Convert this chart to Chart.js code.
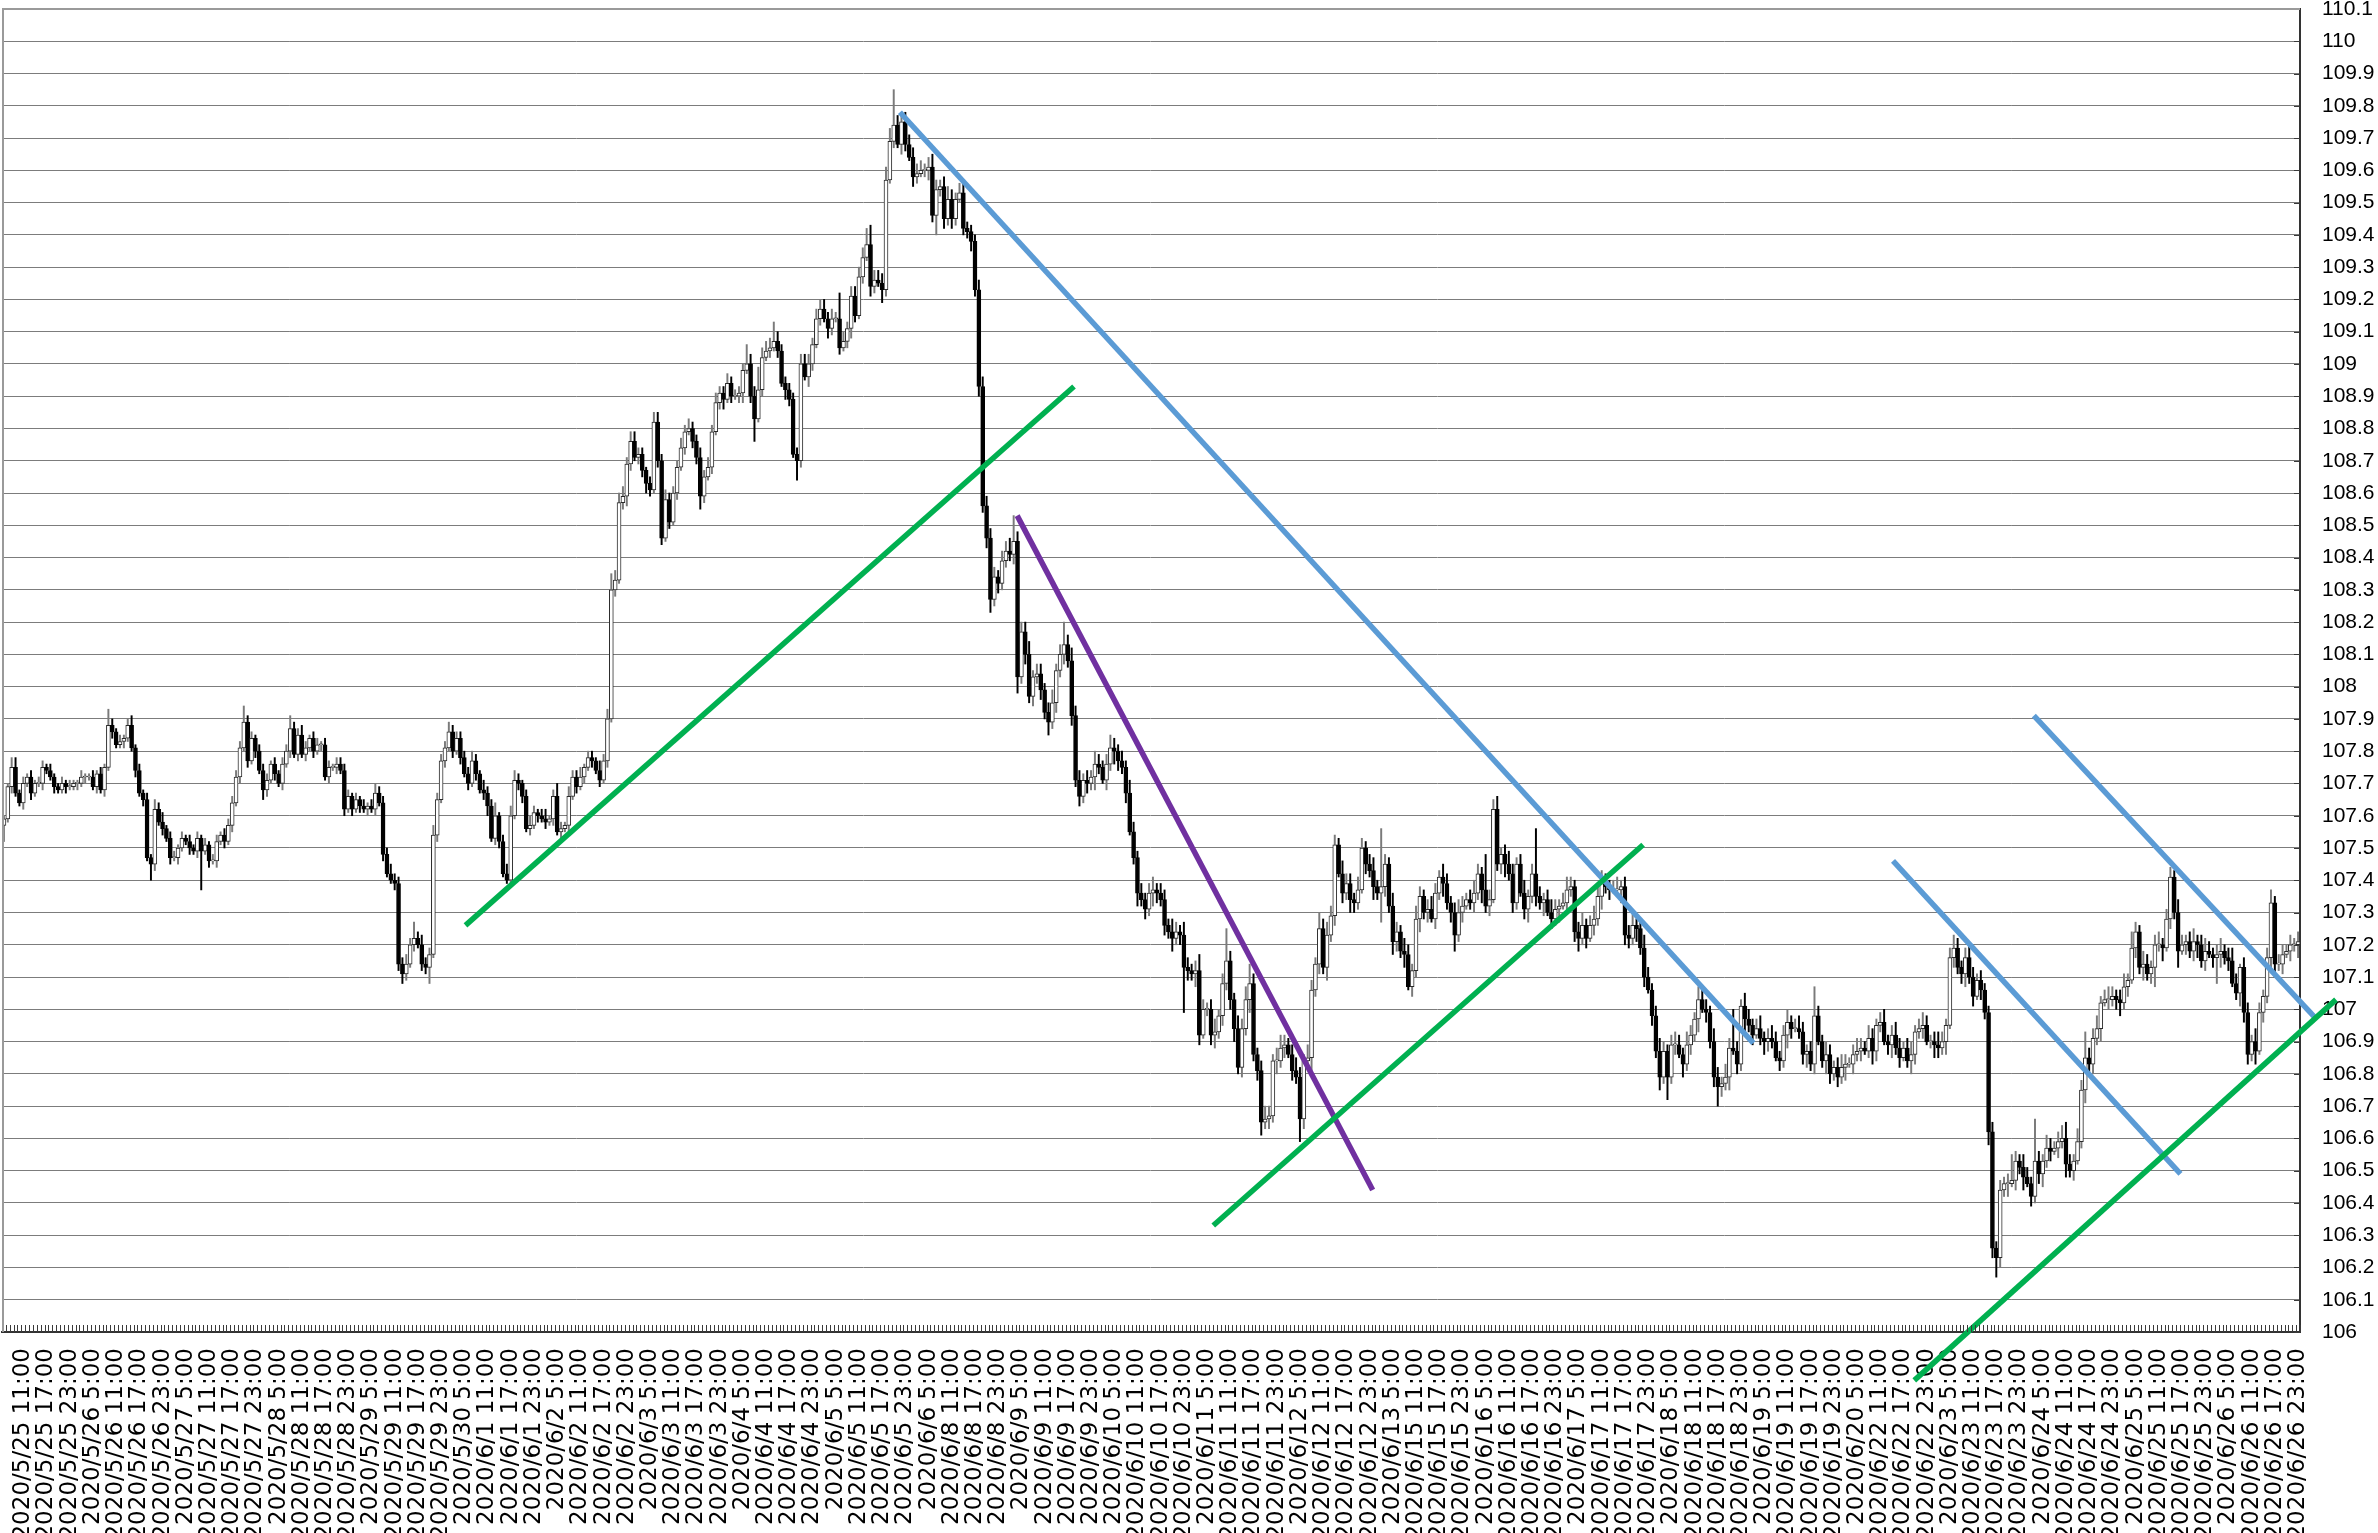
<!DOCTYPE html>
<html>
<head>
<meta charset="utf-8">
<script src="https://cdn.jsdelivr.net/npm/chart.js@4.4.0/dist/chart.umd.min.js"></script>
<style>
  html, body { margin: 0; padding: 0; background: #fff; }
  canvas { display: block; }
</style>
</head>
<body>
<canvas id="chart" width="2378" height="1533"></canvas>
<script>
// USD/JPY hourly candles, 2020/5/25 6:00 - 2020/6/26 23:00
const firstOpen = 107.57;

const closes = [
  107.59,107.69,107.75,107.67,107.64,107.70,107.72,107.67,107.70,107.70,107.75,107.74,107.72,107.69,107.68,107.70,107.69,107.69,107.70,107.70,
  107.72,107.72,107.72,107.69,107.73,107.68,107.75,107.88,107.86,107.82,107.83,107.84,107.88,107.81,107.74,107.67,107.65,107.47,107.45,107.62,
  107.58,107.56,107.53,107.47,107.47,107.50,107.53,107.52,107.50,107.49,107.53,107.49,107.51,107.46,107.46,107.52,107.54,107.52,107.57,107.64,
  107.72,107.81,107.89,107.77,107.84,107.80,107.74,107.68,107.71,107.76,107.73,107.70,107.76,107.80,107.87,107.79,107.85,107.79,107.81,107.84,
  107.80,107.82,107.82,107.72,107.75,107.75,107.76,107.74,107.62,107.66,107.62,107.65,107.63,107.62,107.63,107.62,107.67,107.64,107.48,107.42,
  107.40,107.39,107.14,107.11,107.14,107.20,107.22,107.20,107.14,107.13,107.17,107.54,107.65,107.77,107.81,107.86,107.80,107.84,107.78,107.73,
  107.70,107.77,107.73,107.68,107.67,107.63,107.53,107.60,107.52,107.42,107.40,107.60,107.71,107.70,107.66,107.56,107.57,107.61,107.60,107.59,
  107.58,107.59,107.66,107.55,107.56,107.57,107.66,107.72,107.69,107.72,107.75,107.78,107.77,107.74,107.71,107.77,107.90,108.30,108.33,108.57,
  108.59,108.69,108.76,108.71,108.72,108.67,108.63,108.61,108.82,108.70,108.46,108.58,108.51,108.60,108.68,108.74,108.79,108.80,108.76,108.71,
  108.59,108.65,108.68,108.79,108.88,108.91,108.89,108.94,108.90,108.90,108.91,108.98,109.00,108.90,108.83,108.92,109.02,109.04,109.05,109.07,
  109.04,108.94,108.92,108.89,108.72,108.70,109.00,108.96,109.00,109.06,109.14,109.17,109.14,109.11,109.14,109.14,109.05,109.07,109.11,109.21,
  109.15,109.27,109.33,109.37,109.24,109.26,109.25,109.23,109.57,109.69,109.74,109.68,109.75,109.68,109.64,109.58,109.59,109.60,109.60,109.61,
  109.46,109.54,109.55,109.45,109.51,109.45,109.51,109.53,109.42,109.41,109.38,109.23,108.93,108.56,108.46,108.27,108.34,108.32,108.39,108.42,
  108.41,108.45,108.03,108.17,108.10,107.97,108.03,108.04,107.99,107.92,107.89,107.95,108.05,108.10,108.13,108.08,107.91,107.71,107.66,107.71,
  107.70,107.72,107.76,107.75,107.71,107.76,107.81,107.80,107.77,107.75,107.67,107.55,107.47,107.36,107.34,107.31,107.36,107.37,107.36,107.34,
  107.26,107.24,107.22,107.24,107.23,107.13,107.12,107.11,107.12,106.92,107.00,107.00,106.92,106.93,106.98,107.08,107.15,107.03,106.94,106.82,
  106.94,107.03,107.08,106.86,106.81,106.65,106.66,106.67,106.84,106.84,106.88,106.89,106.86,106.81,106.79,106.66,106.84,106.85,107.06,107.14,
  107.25,107.13,107.23,107.29,107.51,107.42,107.36,107.39,107.34,107.33,107.37,107.50,107.45,107.43,107.38,107.36,107.38,107.45,107.32,107.21,
  107.24,107.18,107.17,107.07,107.12,107.28,107.35,107.30,107.31,107.28,107.36,107.41,107.39,107.33,107.30,107.23,107.30,107.32,107.34,107.33,
  107.36,107.42,107.37,107.32,107.34,107.62,107.45,107.48,107.45,107.42,107.33,107.45,107.36,107.31,107.35,107.42,107.35,107.33,107.34,107.30,
  107.28,107.31,107.32,107.33,107.37,107.38,107.24,107.22,107.26,107.22,107.26,107.28,107.35,107.39,107.38,107.37,107.37,107.37,107.38,107.23,
  107.22,107.26,107.25,107.19,107.10,107.06,106.98,106.87,106.79,106.87,106.79,106.89,106.89,106.86,106.83,106.89,106.92,106.97,107.03,107.00,
  106.99,106.90,106.79,106.76,106.77,106.79,106.88,106.87,106.83,107.01,106.97,106.95,106.92,106.94,106.91,106.90,106.91,106.90,106.85,106.84,
  106.92,106.96,106.94,106.94,106.93,106.86,106.87,106.83,106.98,106.90,106.84,106.86,106.80,106.82,106.79,106.82,106.83,106.83,106.86,106.87,
  106.88,106.87,106.91,106.87,106.95,106.96,106.90,106.89,106.92,106.88,106.85,106.88,106.84,106.86,106.93,106.94,106.95,106.90,106.90,106.89,
  106.88,106.90,106.95,107.16,107.19,107.13,107.11,107.16,107.10,107.04,107.09,107.06,106.99,106.62,106.26,106.23,106.44,106.46,106.46,106.47,
  106.53,106.51,106.48,106.46,106.42,106.53,106.49,106.53,106.57,106.56,106.57,106.59,106.60,106.52,106.50,106.53,106.59,106.75,106.85,106.83,
  106.91,106.94,107.02,107.03,107.03,107.04,107.03,107.02,107.07,107.09,107.19,107.24,107.13,107.14,107.11,107.13,107.20,107.20,107.19,107.28,
  107.41,107.30,107.18,107.20,107.21,107.18,107.21,107.20,107.15,107.18,107.17,107.16,107.17,107.18,107.16,107.15,107.08,107.05,107.13,106.99,
  106.86,106.90,106.87,106.99,107.04,107.16,107.33,107.14,107.14,107.17,107.18,107.20,107.20,107.21
];

// wick lengths above / below the body, in 0.01 yen
const upperWick = [
  1,1,3,3,1,2,1,2,1,2,2,1,2,1,1,2,1,2,1,1,
  2,1,1,2,1,2,1,5,2,1,2,1,2,3,1,2,1,2,1,3,
  2,3,1,2,2,1,2,1,2,1,2,1,2,1,2,2,1,2,2,2,
  2,2,5,2,2,1,2,2,2,1,2,1,2,2,4,2,2,3,2,1,
  2,2,1,2,2,1,2,2,2,2,1,2,1,2,1,2,3,2,2,2,
  3,2,2,2,3,2,5,2,3,2,2,3,2,2,2,3,2,2,2,2,
  2,3,2,1,3,2,2,4,1,2,3,3,3,2,1,2,3,2,1,2,
  3,1,2,4,2,1,3,2,2,3,1,2,2,1,3,2,3,5,3,3,
  3,2,3,3,2,2,1,2,3,3,2,3,2,2,2,3,2,3,2,2,
  3,2,3,2,3,2,2,3,2,2,2,2,6,3,3,7,3,3,3,6,
  3,2,2,2,2,2,3,3,3,2,3,3,3,2,3,2,8,3,2,3,
  3,3,3,5,6,3,3,3,4,4,11,3,2,3,3,3,3,3,2,3,
  4,3,2,3,4,3,2,3,3,2,2,2,3,3,3,3,3,2,3,3,
  4,8,3,3,3,4,2,3,3,2,3,4,2,3,7,3,4,3,3,2,
  3,2,4,3,2,3,4,3,2,3,2,4,3,2,3,2,3,4,2,3,
  3,2,4,3,2,4,3,2,3,5,3,2,3,4,2,3,10,3,2,4,
  3,4,6,3,2,3,4,3,2,4,4,3,2,3,4,3,2,4,3,2,
  5,3,4,3,3,2,4,3,3,2,4,3,2,3,4,2,18,3,2,4,
  3,2,4,3,2,4,3,2,3,4,3,2,4,3,2,3,4,3,2,3,
  4,3,2,11,3,3,4,2,3,4,3,2,3,4,2,3,14,3,2,3,
  4,3,2,3,4,3,2,3,4,2,3,4,3,4,3,2,3,4,2,3,
  3,4,2,3,4,3,2,3,4,3,2,3,4,3,2,4,3,2,4,3,
  3,2,4,3,2,4,3,12,3,2,4,3,2,3,4,2,3,4,3,2,
  3,4,2,3,4,3,2,3,9,3,2,4,3,2,3,4,3,2,3,4,
  3,2,4,3,2,3,4,2,3,4,3,2,3,4,2,3,4,3,2,3,
  4,3,2,3,4,3,2,3,4,3,2,3,2,2,3,2,3,2,3,8,
  3,2,4,3,2,13,3,2,4,3,2,3,4,5,3,2,4,3,8,3,
  3,4,2,3,4,3,2,3,4,2,5,3,2,4,3,2,3,4,2,3,
  3,2,4,3,2,3,4,2,3,4,3,2,3,4,2,3,4,3,1,3,
  3,2,4,3,2,3,4,2,3,3,2,3,2,3
];
const lowerWick = [
  5,1,2,1,1,2,1,2,1,1,2,1,1,2,1,1,2,1,1,2,
  1,2,1,1,2,1,2,1,2,1,1,2,1,1,2,1,2,1,5,2,
  1,2,1,2,1,2,1,1,2,1,2,12,1,2,1,2,1,2,1,2,
  1,2,1,2,1,2,1,3,2,1,2,1,2,1,2,1,2,1,2,1,
  2,1,2,1,2,1,2,1,2,1,2,1,2,1,2,1,2,1,2,1,
  1,2,2,3,2,1,2,1,2,2,5,1,2,1,2,1,2,1,2,1,
  2,1,2,1,2,3,1,2,2,1,1,2,1,2,2,1,2,1,2,1,
  2,1,2,1,2,1,2,1,2,1,2,1,2,1,2,1,2,1,2,1,
  2,3,2,1,2,2,3,2,1,2,2,1,2,1,2,1,2,1,2,2,
  4,2,1,2,1,2,3,1,2,1,2,3,1,2,7,1,2,1,2,1,
  2,1,3,2,1,6,2,1,3,2,1,2,1,3,2,1,2,1,2,3,
  2,1,2,1,3,2,1,4,2,1,2,1,3,2,1,3,2,1,2,3,
  2,6,2,3,2,3,2,1,2,2,3,2,3,2,3,4,2,3,2,2,
  2,3,5,2,3,2,3,2,3,2,4,2,3,2,3,2,3,2,3,2,
  3,2,4,2,1,3,2,4,3,2,3,1,2,4,2,3,2,4,3,2,
  3,2,4,2,3,14,3,2,4,3,1,2,3,4,2,3,2,3,4,2,
  3,2,4,2,3,4,2,3,2,4,2,3,1,3,2,7,3,2,4,2,
  3,2,4,2,3,1,3,2,4,3,2,1,3,2,4,2,9,3,2,4,
  3,2,4,1,3,2,4,2,3,1,3,2,4,2,3,5,2,3,1,2,
  3,2,4,2,3,1,2,3,4,2,3,2,1,3,4,2,3,2,4,1,
  3,2,4,1,3,2,3,4,2,3,1,3,2,4,2,3,1,2,4,3,
  3,2,4,2,3,1,3,2,4,2,7,2,3,1,4,2,3,2,4,1,
  3,2,3,6,3,2,4,1,3,2,4,2,3,1,2,4,3,2,1,3,
  2,4,3,1,2,3,4,2,3,1,2,4,3,2,3,2,4,1,3,2,
  3,1,2,4,3,2,1,3,4,2,3,1,2,4,3,2,3,1,2,4,
  3,2,4,1,3,2,3,4,2,3,1,3,2,4,3,6,3,2,4,1,
  3,2,4,1,3,2,3,4,2,3,1,3,2,4,2,3,1,2,4,3,
  3,2,4,1,3,2,3,4,2,3,1,3,2,4,2,3,6,2,4,1,
  3,2,5,1,3,2,3,4,2,3,1,3,8,4,2,3,1,2,4,3,
  3,2,4,1,3,2,3,4,2,3,1,3,2,4
];

const tickLabels = [
  "2020/5/25 11:00","2020/5/25 17:00","2020/5/25 23:00",
  "2020/5/26 5:00","2020/5/26 11:00","2020/5/26 17:00","2020/5/26 23:00",
  "2020/5/27 5:00","2020/5/27 11:00","2020/5/27 17:00","2020/5/27 23:00",
  "2020/5/28 5:00","2020/5/28 11:00","2020/5/28 17:00","2020/5/28 23:00",
  "2020/5/29 5:00","2020/5/29 11:00","2020/5/29 17:00","2020/5/29 23:00",
  "2020/5/30 5:00",
  "2020/6/1 11:00","2020/6/1 17:00","2020/6/1 23:00",
  "2020/6/2 5:00","2020/6/2 11:00","2020/6/2 17:00","2020/6/2 23:00",
  "2020/6/3 5:00","2020/6/3 11:00","2020/6/3 17:00","2020/6/3 23:00",
  "2020/6/4 5:00","2020/6/4 11:00","2020/6/4 17:00","2020/6/4 23:00",
  "2020/6/5 5:00","2020/6/5 11:00","2020/6/5 17:00","2020/6/5 23:00",
  "2020/6/6 5:00",
  "2020/6/8 11:00","2020/6/8 17:00","2020/6/8 23:00",
  "2020/6/9 5:00","2020/6/9 11:00","2020/6/9 17:00","2020/6/9 23:00",
  "2020/6/10 5:00","2020/6/10 11:00","2020/6/10 17:00","2020/6/10 23:00",
  "2020/6/11 5:00","2020/6/11 11:00","2020/6/11 17:00","2020/6/11 23:00",
  "2020/6/12 5:00","2020/6/12 11:00","2020/6/12 17:00","2020/6/12 23:00",
  "2020/6/13 5:00",
  "2020/6/15 11:00","2020/6/15 17:00","2020/6/15 23:00",
  "2020/6/16 5:00","2020/6/16 11:00","2020/6/16 17:00","2020/6/16 23:00",
  "2020/6/17 5:00","2020/6/17 11:00","2020/6/17 17:00","2020/6/17 23:00",
  "2020/6/18 5:00","2020/6/18 11:00","2020/6/18 17:00","2020/6/18 23:00",
  "2020/6/19 5:00","2020/6/19 11:00","2020/6/19 17:00","2020/6/19 23:00",
  "2020/6/20 5:00",
  "2020/6/22 11:00","2020/6/22 17:00","2020/6/22 23:00",
  "2020/6/23 5:00","2020/6/23 11:00","2020/6/23 17:00","2020/6/23 23:00",
  "2020/6/24 5:00","2020/6/24 11:00","2020/6/24 17:00","2020/6/24 23:00",
  "2020/6/25 5:00","2020/6/25 11:00","2020/6/25 17:00","2020/6/25 23:00",
  "2020/6/26 5:00","2020/6/26 11:00","2020/6/26 17:00","2020/6/26 23:00"
];
// first labelled candle is 11:00 on 5/25, then every 6th candle
const tickIndex = tickLabels.map((_, k) => 5 + 6 * k);

// trend lines: [candle index, price] at both ends
const greenLines = [
  [[119.3, 107.26], [276.6, 108.93]],
  [[312.6, 106.33], [423.7, 107.51]],
  [[493.8, 105.85], [602.8, 107.03]]
];
const blueLines = [
  [[231.6, 109.78], [452.2, 106.895]],
  [[488.3, 107.46], [562.6, 106.49]],
  [[524.7, 107.91], [597.7, 106.97]]
];
const purpleLines = [
  [[261.9, 108.53], [353.8, 106.44]]
];

const opens = closes.map((c, i) => i === 0 ? firstOpen : closes[i - 1]);
const isUp = closes.map((c, i) => c >= opens[i]);
const bodies = closes.map((c, i) => ({x: i, y: [opens[i], c]}));
const wicks = closes.map((c, i) => ({
  x: i,
  y: [Math.min(opens[i], c) - lowerWick[i] / 100, Math.max(opens[i], c) + upperWick[i] / 100]
}));

const lineSet = (pts, color) => ({
  type: 'line',
  data: pts.map(p => ({x: p[0], y: p[1]})),
  borderColor: color,
  borderWidth: 5.5,
  borderCapStyle: 'butt',
  pointRadius: 0,
  clip: false,
  order: 0
});

const FONT = "'Liberation Sans', Arial, sans-serif";

// plot frame and the small category tick marks along the bottom
const frame = {
  id: 'frame',
  afterDatasetsDraw(chart) {
    const {ctx, chartArea: a, scales: {x, y}} = chart;
    ctx.save();
    ctx.strokeStyle = '#3a3a3a';
    ctx.lineWidth = 1;
    ctx.beginPath();
    for (let i = 0; i <= closes.length; i++) {
      const px = Math.round(x.getPixelForValue(i - 0.5)) + 0.5;
      ctx.moveTo(px, a.bottom);
      ctx.lineTo(px, a.bottom - 7);
    }
    y.ticks.forEach(t => {
      const py = Math.round(y.getPixelForValue(t.value)) + 0.5;
      ctx.moveTo(a.right, py);
      ctx.lineTo(a.right - 6, py);
    });
    ctx.stroke();
    ctx.strokeStyle = '#9a9a9a';
    ctx.lineWidth = 2;
    ctx.beginPath();
    ctx.moveTo(a.left + 1, a.bottom);
    ctx.lineTo(a.left + 1, a.top);
    ctx.lineTo(a.right, a.top);
    ctx.stroke();
    ctx.restore();
  }
};

new Chart(document.getElementById('chart'), {
  type: 'bar',
  data: {
    datasets: [
      ...greenLines.map(p => lineSet(p, '#00b050')),
      ...blueLines.map(p => lineSet(p, '#5b9bd5')),
      ...purpleLines.map(p => lineSet(p, '#7030a0')),
      {
        data: bodies,
        backgroundColor: isUp.map(u => u ? '#ffffff' : '#000000'),
        borderColor: isUp.map(u => u ? '#2a2a2a' : '#000000'),
        borderWidth: 1,
        borderSkipped: false,
        barThickness: 4,
        minBarLength: 1,
        grouped: false,
        order: 1
      },
      {
        data: wicks,
        backgroundColor: isUp.map(u => u ? '#7a7a7a' : '#000000'),
        borderWidth: 0,
        barThickness: 1.3,
        grouped: false,
        order: 2
      }
    ]
  },
  options: {
    responsive: false,
    animation: false,
    devicePixelRatio: 1,
    events: [],
    layout: {padding: {left: 2, top: 9, right: 0, bottom: 0}},
    plugins: {legend: {display: false}, tooltip: {enabled: false}},
    scales: {
      x: {
        type: 'linear',
        min: -0.5,
        max: 593.5,
        offset: false,
        grid: {display: false, drawTicks: false},
        border: {color: '#333333', width: 2},
        afterBuildTicks: s => { s.ticks = tickIndex.map(v => ({value: v})); },
        ticks: {
          autoSkip: false,
          maxRotation: 90,
          minRotation: 90,
          padding: 16,
          color: '#000',
          font: {family: "'DejaVu Sans', sans-serif", size: 23},
          callback: (v, k) => tickLabels[k]
        },
        afterFit: s => { s.height = 201; s.paddingLeft = 0; s.paddingRight = 0; }
      },
      y: {
        type: 'linear',
        position: 'right',
        min: 106,
        max: 110.1,
        beginAtZero: false,
        grid: {color: '#7c7c7c', lineWidth: 1, drawTicks: false},
        border: {color: '#333333', width: 2},
        ticks: {
          stepSize: 0.1,
          autoSkip: false,
          padding: 22,
          color: '#000',
          font: {family: FONT, size: 21},
          callback: v => String(+v.toFixed(1))
        },
        afterFit: s => { s.width = 78; s.paddingTop = 0; s.paddingBottom = 0; }
      }
    }
  },
  plugins: [frame]
});
</script>
</body>
</html>
